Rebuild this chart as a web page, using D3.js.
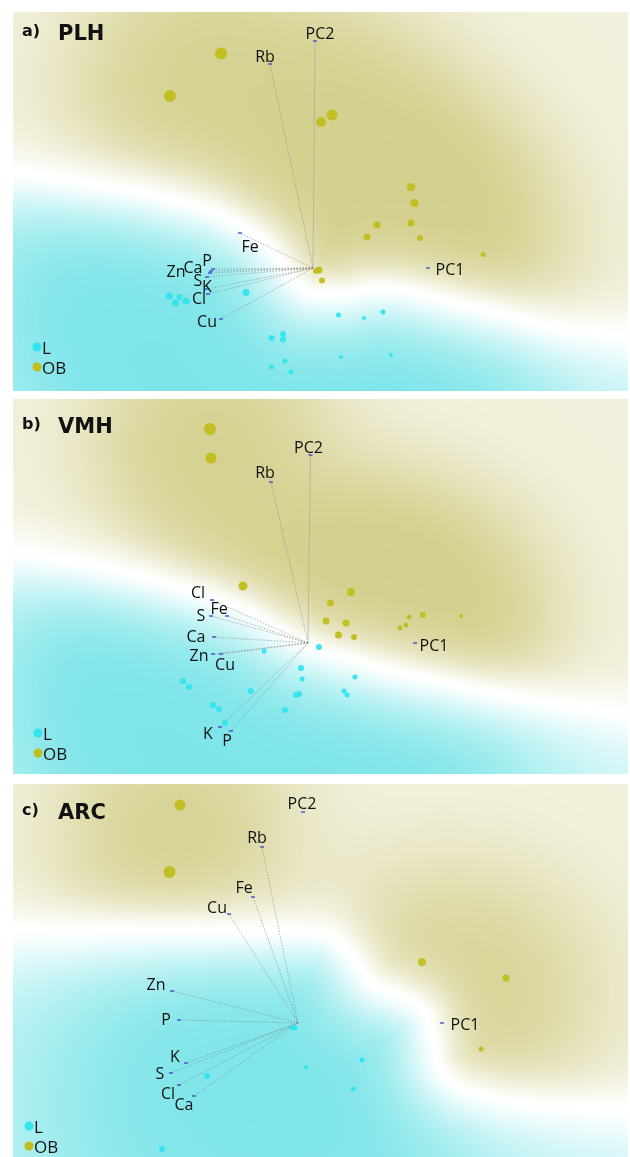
<!DOCTYPE html>
<html>
<head>
<meta charset="utf-8">
<script src="https://cdn.jsdelivr.net/npm/d3@7"></script>
<style>
  body { margin: 0; background: #fff; }
  #wrap { position: relative; width: 630px; height: 1157px; overflow: hidden; }
  #wrap canvas, #wrap svg { position: absolute; left: 0; top: 0; }
</style>
</head>
<body>
<div id="wrap"></div>
<script>
// ---- Scores: [PC1, PC2, size attribute] ----
const plhOB = [[-0.92,2.145,5],[-1.43,1.72,5],[0.19,1.53,4.5],[0.08,1.46,4],[0.98,0.81,3],[1.015,0.65,3],
  [0.98,0.45,2.5],[0.64,0.43,2.5],[0.54,0.31,2.5],[1.07,0.30,2],[1.70,0.135,1.5],[0.06,-0.02,2.5],[0.03,-0.03,2],[0.09,-0.125,2]];
const plhL = [[-0.67,-0.246,2.5],[-1.435,-0.28,2.5],[-1.335,-0.29,2],[-1.375,-0.35,2.5],[-1.27,-0.33,2.5],[0.255,-0.47,1.5],
  [0.51,-0.50,1],[0.70,-0.44,1.5],[-0.415,-0.70,2],[-0.30,-0.66,2],[-0.30,-0.715,2],[0.28,-0.89,1],[0.78,-0.87,1],
  [-0.28,-0.93,1.5],[-0.415,-0.99,1.5],[-0.22,-1.04,1.5]];
const vmhOB = [[-0.98,2.14,5],[-0.97,1.85,4.5],[-0.65,0.57,3.5],[0.43,0.51,3],[0.225,0.40,2.5],[0.18,0.22,2.5],[0.38,0.20,2.5],
  [0.305,0.08,2.5],[0.46,0.06,2],[1.01,0.26,1.5],[1.15,0.28,2],[0.98,0.18,1.5],[0.92,0.15,1.5],[1.53,0.27,1]];
const vmhL = [[0.11,-0.04,2],[-0.44,-0.08,1.5],[-0.07,-0.25,2],[-0.06,-0.36,1.5],[0.47,-0.34,1.5],[-1.25,-0.38,2],[-1.19,-0.44,2],
  [-0.574,-0.48,2],[-0.12,-0.52,2],[-0.09,-0.51,2],[0.36,-0.48,1.5],[0.39,-0.52,1.5],[-0.95,-0.62,2],[-0.89,-0.66,2],
  [-0.23,-0.67,2],[-0.83,-0.80,2]];
const arcOB = [[-1.18,2.18,4.5],[-1.285,1.51,5],[1.24,0.61,3],[2.08,0.45,2.5],[1.83,-0.26,1.5]];
const arcL = [[-0.06,-0.05,1.5],[-0.03,-0.05,1.5],[0.64,-0.37,1.5],[0.08,-0.44,1],[-0.91,-0.53,2],[0.55,-0.66,1.5],[-1.36,-1.26,2]];

// ---- Loadings: [variable, PC1, PC2] ----
const plhLoadings = [["PC1",1.15,0],["PC2",0.02,2.27],["Rb",-0.43,2.04],["Fe",-0.73,0.35],["P",-1.00,-0.01],["Ca",-1.02,-0.03],
  ["Zn",-1.03,-0.05],["S",-1.06,-0.09],["K",-1.06,-0.21],["Cl",-1.05,-0.26],["Cu",-0.92,-0.51]];
const vmhLoadings = [["PC1",1.07,0],["PC2",0.025,1.88],["Rb",-0.37,1.61],["Cl",-0.96,0.43],["Fe",-0.81,0.27],["S",-0.97,0.27],
  ["Ca",-0.94,0.06],["Zn",-0.95,-0.11],["Cu",-0.87,-0.11],["K",-0.88,-0.84],["P",-0.77,-0.88]];
const arcLoadings = [["PC1",1.44,0],["PC2",0.05,2.11],["Rb",-0.36,1.76],["Fe",-0.45,1.26],["Cu",-0.69,1.09],["Zn",-1.26,0.32],
  ["P",-1.19,0.03],["K",-1.12,-0.40],["S",-1.27,-0.50],["Cl",-1.19,-0.62],["Ca",-1.04,-0.73]];

// ---- Class decision boundary (PC1, PC2) ----
const plhBoundary = [[-3.05,0.98],[-2.33,0.86],[-1.52,0.71],[-0.88,0.51],[-0.40,0.18],[-0.16,-0.14],[0,-0.25],[0.28,-0.26],
  [0.60,-0.20],[0.90,-0.22],[1.29,-0.31],[1.89,-0.46],[2.49,-0.60],[3.20,-0.68]];
const vmhBoundary = [[-3.0,0.93],[-1.47,0.61],[-0.67,0.35],[0,-0.02],[0.53,-0.19],[1.34,-0.39],[2.14,-0.55],[3.25,-0.71]];
const arcBoundary = [[-2.9,0.93],[-0.98,0.93],[0.23,0.90],[0.51,0.70],[0.71,0.43],[1.04,0.26],[1.28,0.10],[1.34,-0.10],
  [1.40,-0.40],[1.56,-0.60],[1.84,-0.72],[2.44,-0.82],[3.35,-0.87]];

const classNames = ["L", "OB"];

// ---- Layout ----
const W = 630, H = 1157;
const panels = [
  { tag: "a)", title: "PLH", box: [13, 12, 628, 391], origin: [313, 268], ob: plhOB, l: plhL, load: plhLoadings,
    boundary: plhBoundary, titleY: 40, legend: [37, 347], axisLines: ["PC2"],
    labels: { PC1:[22,1], PC2:[5,-8], Rb:[-5,-8], Fe:[10,13], P:[-6,-9], Ca:[-18,-4], Zn:[-34,-2], S:[-9,3], K:[0,-3], Cl:[-9,4], Cu:[-14,2] } },
  { tag: "b)", title: "VMH", box: [13, 399, 628, 774], origin: [308, 643], ob: vmhOB, l: vmhL, load: vmhLoadings,
    boundary: vmhBoundary, titleY: 433, legend: [38, 733], axisLines: ["PC2"],
    labels: { PC1:[19,2], PC2:[-2,-8], Rb:[-6,-10], Cl:[-14,-8], Fe:[-8,-8], S:[-10,-1], Ca:[-18,-1], Zn:[-14,1], Cu:[4,10], K:[-12,6], P:[-4,9] } },
  { tag: "c)", title: "ARC", box: [13, 784, 628, 1160], origin: [298, 1023], ob: arcOB, l: arcL, load: arcLoadings,
    boundary: arcBoundary, titleY: 819, legend: [29, 1126], axisLines: [],
    labels: { PC1:[23,1], PC2:[-1,-9], Rb:[-5,-10], Fe:[-9,-10], Cu:[-12,-7], Zn:[-16,-7], P:[-13,-1], K:[-11,-7], S:[-11,0], Cl:[-11,8], Ca:[-10,8] } }
];
const PX_PER_UNIT = 100;

const classStyle = {
  OB: { point: "#c2bd1c", full: [194, 189, 96], sigma: 68, base: 0.22, amp: 0.5, k: 0.9, ramp: 28 },
  L:  { point: "#33e3ef", full: [100, 224, 228], sigma: 105, base: 0.32, amp: 0.52, k: 0.9, ramp: 42 }
};
const sizeScale = d3.scaleLinear().domain([1, 5]).range([2, 6]);

const wrap = d3.select("#wrap");
const canvas = wrap.append("canvas").attr("width", W).attr("height", H).node();
const ctx = canvas.getContext("2d");
const svg = wrap.append("svg").attr("width", W).attr("height", H);
const fontFamily = "'Open Sans', 'Noto Sans', sans-serif";

panels.forEach(P => {
  const [x0, y0, x1, y1] = P.box;
  const [ox, oy] = P.origin;
  const x = d3.scaleLinear().domain([(x0 - ox) / PX_PER_UNIT, (x1 - ox) / PX_PER_UNIT]).range([x0, x1]);
  const y = d3.scaleLinear().domain([(oy - y1) / PX_PER_UNIT, (oy - y0) / PX_PER_UNIT]).range([y1, y0]);

  // smooth boundary curve, sampled densely
  const tmp = svg.append("path")
    .attr("d", d3.line().x(d => x(d[0])).y(d => y(d[1])).curve(d3.curveMonotoneX)(P.boundary))
    .attr("fill", "none").attr("stroke", "none");
  const node = tmp.node(), len = node.getTotalLength();
  const samples = [];
  for (let s = 0; s <= len; s += 1.5) { const p = node.getPointAtLength(s); samples.push([p.x, p.y]); }
  tmp.remove();
  samples.sort((a, b) => a[0] - b[0]);
  const sx = samples.map(d => d[0]);

  // class density background
  const step = 2;
  const gw = Math.ceil((x1 - x0) / step), gh = Math.ceil((Math.min(y1, H) - y0) / step);
  const off = document.createElement("canvas"); off.width = gw; off.height = gh;
  const octx = off.getContext("2d");
  const img = octx.createImageData(gw, gh);
  const pts = {
    OB: P.ob.map(d => [x(d[0]), y(d[1]), d[2]]),
    L: P.l.map(d => [x(d[0]), y(d[1]), d[2]])
  };
  const bis = d3.bisector(d => d).left;
  for (let i = 0; i < gw; i++) {
    const px = x0 + (i + 0.5) * step;
    let k = Math.max(1, Math.min(samples.length - 1, bis(sx, px)));
    const a = samples[k - 1], b = samples[k];
    const yb = a[1] + (b[1] - a[1]) * ((px - a[0]) / ((b[0] - a[0]) || 1));
    for (let j = 0; j < gh; j++) {
      const py = y0 + (j + 0.5) * step;
      let md = Infinity;
      for (let s = 0; s < samples.length; s++) {
        const dx = samples[s][0] - px, dy = samples[s][1] - py;
        const dd = dx * dx + dy * dy;
        if (dd < md) md = dd;
      }
      const dist = Math.sqrt(md);
      const cls = py < yb ? "OB" : "L";
      const st = classStyle[cls];
      let D = 0;
      const s2 = 2 * st.sigma * st.sigma;
      for (const p of pts[cls]) {
        const dx = p[0] - px, dy = p[1] - py;
        D += Math.exp(-(dx * dx + dy * dy) / s2) * (0.6 + 0.15 * p[2]);
      }
      const dens = 1 - Math.exp(-st.k * D);
      const c = 1 - Math.exp(-Math.pow(dist / st.ramp, 1.4));
      const t = c * (st.base + st.amp * dens);
      const o = (j * gw + i) * 4;
      img.data[o] = 255 + t * (st.full[0] - 255);
      img.data[o + 1] = 255 + t * (st.full[1] - 255);
      img.data[o + 2] = 255 + t * (st.full[2] - 255);
      img.data[o + 3] = 255;
    }
  }
  octx.putImageData(img, 0, 0);
  ctx.save();
  ctx.beginPath(); ctx.rect(x0, y0, x1 - x0, y1 - y0); ctx.clip();
  ctx.imageSmoothingEnabled = true; ctx.imageSmoothingQuality = "high";
  ctx.drawImage(off, x0, y0, gw * step, gh * step);
  ctx.restore();

  const g = svg.append("g");
  const clipId = "clip" + P.title;
  svg.append("clipPath").attr("id", clipId).append("rect")
    .attr("x", x0).attr("y", y0).attr("width", x1 - x0).attr("height", y1 - y0);
  g.attr("clip-path", `url(#${clipId})`);

  // loading vectors
  const vars = P.load.filter(d => !d[0].startsWith("PC") || P.axisLines.includes(d[0]));
  g.selectAll("line.vec").data(vars).join("line")
    .attr("x1", x(0)).attr("y1", y(0))
    .attr("x2", d => x(d[1])).attr("y2", d => y(d[2]))
    .attr("stroke", d => d[0].startsWith("PC") ? "#a8a8a8" : "#7a7a7a")
    .attr("stroke-width", d => d[0].startsWith("PC") ? 0.8 : 0.6)
    .attr("stroke-dasharray", d => d[0].startsWith("PC") ? null : "1.6,1.4")
    .attr("opacity", 0.85);

  // scores
  const drawPts = (data, cls) => g.append("g").selectAll("circle").data(data).join("circle")
    .attr("cx", d => x(d[0])).attr("cy", d => y(d[1])).attr("r", d => sizeScale(d[2]))
    .attr("fill", classStyle[cls].point).attr("opacity", 0.95);
  drawPts(P.ob, "OB");
  drawPts(P.l, "L");

  // anchor ticks and labels
  g.selectAll("line.tick").data(P.load).join("line")
    .attr("x1", d => x(d[1]) - 2).attr("x2", d => x(d[1]) + 2)
    .attr("y1", d => y(d[2])).attr("y2", d => y(d[2]))
    .attr("stroke", "#4b4bd2").attr("stroke-width", 1.4);
  g.selectAll("text.lab").data(P.load).join("text")
    .attr("x", d => x(d[1]) + P.labels[d[0]][0])
    .attr("y", d => y(d[2]) + P.labels[d[0]][1])
    .attr("text-anchor", "middle").attr("dominant-baseline", "central")
    .attr("font-family", fontFamily).attr("font-size", 16).attr("fill", "#111")
    .text(d => d[0]);

  // panel title
  const t = g.append("text").attr("y", P.titleY).attr("font-family", "'DejaVu Sans', sans-serif")
    .attr("font-weight", "bold").attr("fill", "#111");
  t.append("tspan").attr("x", x0 + 9).attr("dy", -4).attr("font-size", 16).text(P.tag);
  t.append("tspan").attr("x", x0 + 45).attr("dy", 4).attr("font-size", 21).text(P.title);

  // legend
  const lg = g.append("g").attr("transform", `translate(${P.legend[0]},${P.legend[1]})`);
  ["L", "OB"].forEach((c, i) => {
    lg.append("circle").attr("cx", 0).attr("cy", i * 20).attr("r", 4.5).attr("fill", classStyle[c].point);
    lg.append("text").attr("x", 5).attr("y", i * 20).attr("dominant-baseline", "central")
      .attr("font-family", fontFamily).attr("font-size", 17).attr("fill", "#111").text(c);
  });
});
</script>
</body>
</html>
